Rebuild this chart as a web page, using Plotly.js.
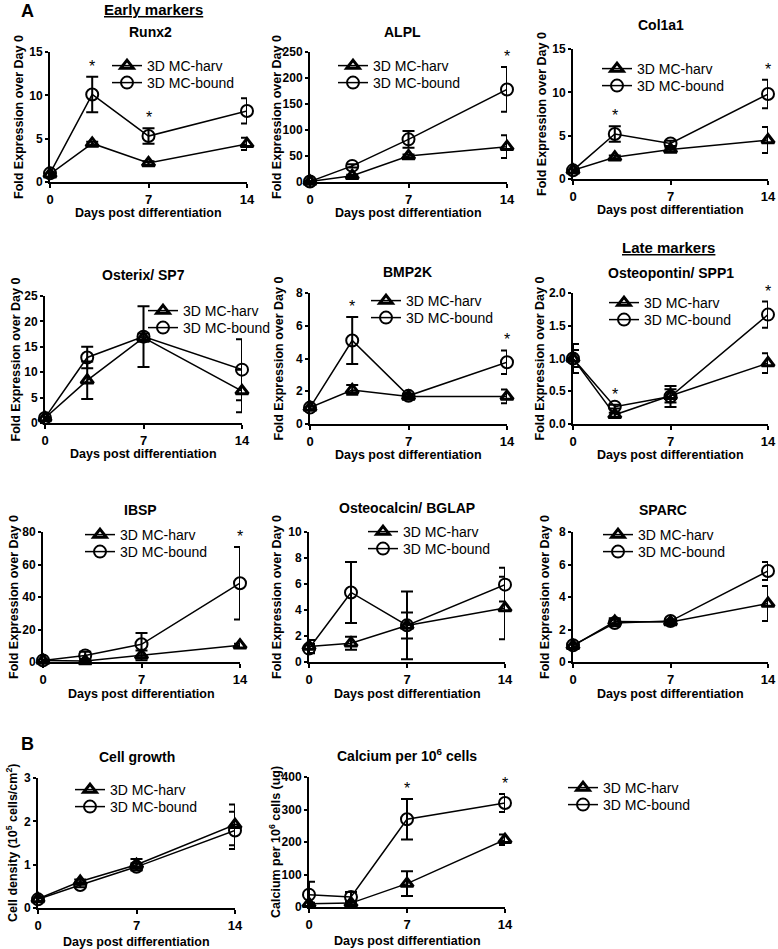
<!DOCTYPE html>
<html><head><meta charset="utf-8">
<script src="https://cdn.plot.ly/plotly-3.0.1.min.js"></script>
<style>html,body{margin:0;padding:0;background:#fff}#chart{width:778px;height:949px}</style>
</head><body><div id="chart"></div>
<script>
// ---------- data ----------
const days = [0, 3, 7, 14];
const dayTicks = [0, 7, 14];
const dayTickText = ['0', '7', '14'];
const seriesNames = ['3D MC-harv', '3D MC-bound'];

const panelTitles = ['Runx2', 'ALPL', 'Col1a1', 'Osterix/ SP7', 'BMP2K', 'Osteopontin/ SPP1',
  'IBSP', 'Osteocalcin/ BGLAP', 'SPARC', 'Cell growth', 'Calcium per 10<sup>6</sup> cells'];
const yAxisTitles = ['Fold Expression over Day 0', 'Fold Expression over Day 0', 'Fold Expression over Day 0',
  'Fold Expression over Day 0', 'Fold Expression over Day 0', 'Fold Expression over Day 0',
  'Fold Expression over Day 0', 'Fold Expression over Day 0', 'Fold Expression over Day 0',
  'Cell density (10<sup>5</sup> cells/cm<sup>2</sup>)', 'Calcium per 10<sup>6</sup> cells (ug)'];
const xAxisTitle = 'Days post differentiation';

const runx2Harv = [0.9, 4.45, 2.2, 4.4];
const runx2HarvErr = [0.15, 0.2, 0.2, 0.7];
const runx2Bound = [1.0, 10.1, 5.3, 8.2];
const runx2BoundErr = [0.1, 2.05, 0.9, 1.45];
const runx2Sig = [3, 7];
const runx2Ticks = [0, 5, 10, 15];

const alplHarv = [1, 12, 50, 68];
const alplHarvErr = [0.5, 2, 3, 22];
const alplBound = [1, 31, 82, 178];
const alplBoundErr = [0.5, 3, 16, 43];
const alplSig = [14];
const alplTicks = [0, 50, 100, 150, 200, 250];

const col1a1Harv = [1.0, 2.5, 3.4, 4.5];
const col1a1HarvErr = [0.1, 0.2, 0.2, 1.5];
const col1a1Bound = [1.0, 5.2, 4.1, 9.8];
const col1a1BoundErr = [0.1, 0.9, 0.3, 1.65];
const col1a1Sig = [3, 14];
const col1a1Ticks = [0, 5, 10, 15];

const osterixHarv = [1.0, 8.4, 16.8, 6.3];
const osterixHarvErr = [0.2, 3.7, 0.8, 4.2];
const osterixBound = [1.0, 12.9, 17.0, 10.5];
const osterixBoundErr = [0.2, 2.1, 6.0, 6.0];
const osterixSig = [];
const osterixTicks = [0, 5, 10, 15, 20, 25];

const bmp2kHarv = [1.0, 2.08, 1.68, 1.68];
const bmp2kHarvErr = [0.1, 0.3, 0.15, 0.42];
const bmp2kBound = [1.0, 5.1, 1.72, 3.77];
const bmp2kBoundErr = [0.1, 1.43, 0.1, 0.72];
const bmp2kSig = [3, 14];
const bmp2kTicks = [0, 2, 4, 6, 8];

const spp1Harv = [1.0, 0.14, 0.43, 0.93];
const spp1HarvErr = [0.13, 0.03, 0.1, 0.15];
const spp1Bound = [1.0, 0.265, 0.42, 1.67];
const spp1BoundErr = [0.22, 0.03, 0.16, 0.2];
const spp1Sig = [3, 14];
const spp1Ticks = [0, 0.5, 1, 1.5, 2];
const spp1TickText = ['0.0', '0.5', '1.0', '1.5', '2.0'];

const ibspHarv = [1.0, 0.6, 4.1, 10.3];
const ibspHarvErr = [0.3, 0.5, 3.0, 1.0];
const ibspBound = [1.0, 4.0, 10.9, 48.5];
const ibspBoundErr = [0.5, 2.3, 7.0, 22.3];
const ibspSig = [14];
const ibspTicks = [0, 20, 40, 60, 80];

const bglapHarv = [1.2, 1.45, 2.8, 4.15];
const bglapHarvErr = [0.5, 0.5, 1.0, 2.4];
const bglapBound = [1.03, 5.35, 2.82, 5.95];
const bglapBoundErr = [0.35, 2.35, 2.6, 1.3];
const bglapSig = [];
const bglapTicks = [0, 2, 4, 6, 8, 10];

const sparcHarv = [1.0, 2.5, 2.46, 3.6];
const sparcHarvErr = [0.1, 0.2, 0.1, 1.07];
const sparcBound = [1.03, 2.4, 2.52, 5.6];
const sparcBoundErr = [0.1, 0.2, 0.1, 0.55];
const sparcSig = [];
const sparcTicks = [0, 2, 4, 6, 8];

const growthHarv = [0.21, 0.61, 1.0, 1.92];
const growthHarvErr = [0.05, 0.05, 0.13, 0.47];
const growthBound = [0.2, 0.53, 0.95, 1.79];
const growthBoundErr = [0.05, 0.05, 0.08, 0.43];
const growthSig = [];
const growthTicks = [0, 1, 2, 3];

const calciumHarv = [10, 12, 72, 207];
const calciumHarvErr = [3, 4, 38, 16];
const calciumBound = [38, 31, 270, 320];
const calciumBoundErr = [40, 15, 62, 28];
const calciumSig = [7, 14];
const calciumTicks = [0, 100, 200, 300, 400];

const panelData = [
  [runx2Harv, runx2HarvErr, runx2Bound, runx2BoundErr, runx2Sig, runx2Ticks, null],
  [alplHarv, alplHarvErr, alplBound, alplBoundErr, alplSig, alplTicks, null],
  [col1a1Harv, col1a1HarvErr, col1a1Bound, col1a1BoundErr, col1a1Sig, col1a1Ticks, null],
  [osterixHarv, osterixHarvErr, osterixBound, osterixBoundErr, osterixSig, osterixTicks, null],
  [bmp2kHarv, bmp2kHarvErr, bmp2kBound, bmp2kBoundErr, bmp2kSig, bmp2kTicks, null],
  [spp1Harv, spp1HarvErr, spp1Bound, spp1BoundErr, spp1Sig, spp1Ticks, spp1TickText],
  [ibspHarv, ibspHarvErr, ibspBound, ibspBoundErr, ibspSig, ibspTicks, null],
  [bglapHarv, bglapHarvErr, bglapBound, bglapBoundErr, bglapSig, bglapTicks, null],
  [sparcHarv, sparcHarvErr, sparcBound, sparcBoundErr, sparcSig, sparcTicks, null],
  [growthHarv, growthHarvErr, growthBound, growthBoundErr, growthSig, growthTicks, null],
  [calciumHarv, calciumHarvErr, calciumBound, calciumBoundErr, calciumSig, calciumTicks, null]
];

// ---------- layout geometry (pixels) ----------
const W = 778, H = 949;
const FONT = 'Arial, "Liberation Sans", Helvetica, sans-serif';
const boxes = [
  {l: 50, r: 247, t: 52, b: 182}, {l: 310, r: 507, t: 52, b: 182}, {l: 573, r: 768, t: 49, b: 179},
  {l: 45, r: 242, t: 296, b: 423}, {l: 310, r: 507, t: 293, b: 424}, {l: 573, r: 768, t: 293, b: 424},
  {l: 43, r: 240, t: 532, b: 662}, {l: 309, r: 505, t: 532, b: 662}, {l: 573, r: 768, t: 532, b: 662},
  {l: 38, r: 235, t: 778, b: 908}, {l: 309, r: 505, t: 777, b: 907}
];
const titlePos = [[150, 32], [403, 32], [661, 25], [143, 275], [407, 272], [671, 273],
  [140, 510], [407, 508], [663, 510], [137, 757], [407, 755]];
const yTitleX = [19, 277, 542, 16, 279, 540, 14, 277, 545, 12, 275];
const xTitleDy = [31, 31, 31, 31, 31, 31, 32, 32, 32, 34, 34];
const legendPos = [[127, 66, 83], [353, 66, 83], [617, 69, 86], [163, 311, 328], [386, 301, 318],
  [624, 303, 320], [100, 535, 552], [383, 532, 549], [618, 535, 552], [90, 790, 807], [583, 788, 805]];

const px = x => x / W;
const py = y => 1 - y / H;
const legendId = k => k === 0 ? 'legend' : 'legend' + (k + 1);

const traces = [];
const annotations = [];
const layout = {
  width: W, height: H, margin: {l: 0, r: 0, t: 0, b: 0},
  paper_bgcolor: '#fff', plot_bgcolor: '#fff', showlegend: true,
  font: {family: FONT, color: '#000'}, annotations: annotations
};

panelData.forEach((pd, i) => {
  const [harv, harvErr, bound, boundErr, sig, yTicks, yText] = pd;
  const bx = boxes[i];
  const xa = i === 0 ? 'x' : 'x' + (i + 1);
  const ya = i === 0 ? 'y' : 'y' + (i + 1);
  const xKey = i === 0 ? 'xaxis' : 'xaxis' + (i + 1);
  const yKey = i === 0 ? 'yaxis' : 'yaxis' + (i + 1);
  const axCommon = {
    showline: true, linewidth: 2, linecolor: '#000', ticks: 'outside', tickwidth: 2,
    tickcolor: '#000', showgrid: false, zeroline: false, fixedrange: true
  };
  layout[xKey] = Object.assign({}, axCommon, {
    domain: [px(bx.l), px(bx.r)], range: [0, 14], tickmode: 'array', ticklen: 4,
    tickvals: dayTicks, ticktext: dayTickText, anchor: ya,
    tickfont: {family: FONT, size: 13, weight: 700, color: '#000'}
  });
  layout[yKey] = Object.assign({}, axCommon, {
    domain: [py(bx.b), py(bx.t)], range: [0, yTicks[yTicks.length - 1]], tickmode: 'array', ticklen: 3,
    tickvals: yTicks, ticktext: yText || yTicks.map(String), anchor: xa,
    tickfont: {family: FONT, size: 12, weight: 700, color: '#000'}
  });

  const series = [
    {y: harv, e: harvErr, sym: 'triangle-up-open', size: 11, lw: 3},
    {y: bound, e: boundErr, sym: 'circle-open', size: 12, lw: 2}
  ];
  series.forEach((s, k) => {
    const lid = legendId(i * 2 + k);
    traces.push({
      type: 'scatter', mode: 'lines+markers', x: days, y: s.y, name: seriesNames[k],
      xaxis: xa, yaxis: ya, legend: lid, cliponaxis: false, hoverinfo: 'skip',
      line: {color: '#000', width: 1.5},
      marker: {symbol: s.sym, size: s.size, color: '#000', line: {width: s.lw, color: '#000'}},
      error_y: {type: 'data', array: s.e, visible: true, color: '#000', thickness: 2, width: 6}
    });
    const lp = legendPos[i];
    layout[lid] = {
      x: px(lp[0] - 20), y: py(lp[1 + k]), xanchor: 'left', yanchor: 'middle',
      bgcolor: 'rgba(0,0,0,0)', borderwidth: 0, itemwidth: 30, tracegroupgap: 0,
      font: {family: FONT, size: 14, color: '#000'}, itemclick: false, itemdoubleclick: false
    };
  });

  // significance stars above the higher error bar
  sig.forEach(d => {
    const j = days.indexOf(d);
    const top = Math.max(harv[j] + harvErr[j], bound[j] + boundErr[j]);
    annotations.push({
      xref: xa, yref: ya, x: d, y: top, text: '*', showarrow: false, yanchor: 'bottom', yshift: 0,
      font: {family: FONT, size: 16, color: '#000'}
    });
  });

  // panel title
  annotations.push({
    xref: 'paper', yref: 'paper', x: px(titlePos[i][0]), y: py(titlePos[i][1]),
    xanchor: 'center', yanchor: 'middle', showarrow: false, text: panelTitles[i],
    font: {family: FONT, size: 14, weight: 700, color: '#000'}
  });
  // y axis title
  annotations.push({
    xref: 'paper', yref: 'paper', x: px(yTitleX[i]), y: py((bx.t + bx.b) / 2), textangle: -90,
    xanchor: 'center', yanchor: 'middle', showarrow: false, text: yAxisTitles[i],
    font: {family: FONT, size: 12.5, weight: 700, color: '#000'}
  });
  // x axis title
  annotations.push({
    xref: 'paper', yref: 'paper', x: px((bx.l + bx.r) / 2), y: py(bx.b + xTitleDy[i]),
    xanchor: 'center', yanchor: 'middle', showarrow: false, text: xAxisTitle,
    font: {family: FONT, size: 12.5, weight: 700, color: '#000'}
  });
});

// figure labels
const labelText = [['A', 27, 11, 18], ['B', 27, 744, 18], ['<u>Early markers</u>', 153, 10, 15], ['<u>Late markers</u>', 668, 248, 15]];
labelText.forEach(([t, x, y, s]) => annotations.push({
  xref: 'paper', yref: 'paper', x: px(x), y: py(y), xanchor: 'center', yanchor: 'middle',
  showarrow: false, text: t, font: {family: FONT, size: s, weight: 700, color: '#000'}
}));

Plotly.newPlot('chart', traces, layout, {displayModeBar: false, staticPlot: true});
</script>
</body></html>
